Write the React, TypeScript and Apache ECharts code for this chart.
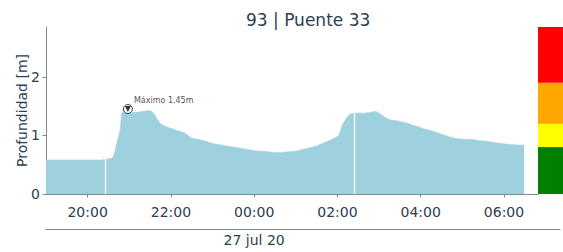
import React, { useEffect, useRef } from "react";
import * as echarts from "echarts";

const TITLE = "93 | Puente 33";
const Y_NAME = "Profundidad [m]";
const DATE_LABELS = ["27 jul 20"];
const DATE_AT = ["00:00"];

const TIMES = [
  "19:00","19:10","19:20","19:30","19:40","19:50","20:00","20:10","20:20","20:30",
  "20:35","20:38","20:41","20:44","20:47","20:49","20:52","20:57","21:05","21:15",
  "21:25","21:30","21:35","21:40","21:46","21:52","22:00","22:10","22:20","22:30",
  "22:40","22:50","23:00","23:10","23:20","23:30","23:40","23:50","00:00","00:10",
  "00:20","00:30","00:40","00:50","01:00","01:10","01:20","01:30","01:40","01:50",
  "01:58","02:02","02:06","02:10","02:14","02:18","02:24","02:30","02:40","02:50",
  "02:55","03:00","03:05","03:12","03:18","03:25","03:33","03:40","03:47","03:55",
  "04:05","04:15","04:25","04:35","04:45","04:55","05:05","05:15","05:25","05:35",
  "05:45","05:55","06:05","06:15","06:29"
];
const DEPTHS = [
  0.58,0.58,0.58,0.58,0.58,0.58,0.58,0.58,0.58,0.60,
  0.61,0.66,0.82,0.95,1.10,1.38,1.41,1.40,1.39,1.40,
  1.42,1.42,1.38,1.28,1.19,1.15,1.12,1.08,1.04,0.95,
  0.93,0.90,0.86,0.84,0.82,0.80,0.78,0.76,0.74,0.73,
  0.72,0.71,0.71,0.72,0.73,0.76,0.79,0.82,0.87,0.92,
  0.97,1.00,1.15,1.24,1.31,1.36,1.38,1.38,1.38,1.40,
  1.41,1.38,1.34,1.28,1.26,1.25,1.23,1.21,1.18,1.15,
  1.11,1.08,1.04,1.00,0.96,0.94,0.93,0.93,0.91,0.90,
  0.88,0.86,0.85,0.84,0.83
];
const GAP_TIMES = ["20:25", "02:24"];
const TICK_TIMES = ["20:00", "22:00", "00:00", "02:00", "04:00", "06:00"];
const Y_TICKS = [0, 1, 2];
const X_START = "19:00";
const X_END = "06:49";
const MAX_TIME = "20:58";
const MAX_VALUE = 1.45;
const MAX_LABEL = "Máximo 1.45m";
const Y_MAX = 2.85;
const LEVEL_TOPS = [0.8, 1.2, 1.9, 2.85];
const LEVEL_COLORS = ["#008000", "#ffff00", "#ffa500", "#ff0000"];

const FONT = "DejaVu Sans";
const AXIS_COLOR = "#7f8a90";
const TEXT_COLOR = "#2c3e50";
const FILL = "#9fd0de";

const toMin = (s: string) => {
  const [h, m] = s.split(":").map(Number);
  let v = h * 60 + m;
  if (h < 12) v += 1440;
  return v;
};
const fmt = (v: number) => {
  const t = ((Math.round(v) % 1440) + 1440) % 1440;
  const h = Math.floor(t / 60);
  const m = t % 60;
  return String(h).padStart(2, "0") + ":" + String(m).padStart(2, "0");
};

export default function App() {
  const ref = useRef<HTMLDivElement>(null);
  useEffect(() => {
    if (!ref.current) return;
    const chart = echarts.init(ref.current, null, { renderer: "svg" });
    const xMin = toMin(X_START);
    const xMax = toMin(X_END);
    const pxPerMin = (538 - 46) / (xMax - xMin);
    const dateMax = xMin + (560 - 46) / pxPerMin;
    const levelDiffs = LEVEL_TOPS.map((t, i) => t - (i === 0 ? 0 : LEVEL_TOPS[i - 1]));

    chart.setOption({
      animation: false,
      title: {
        text: TITLE,
        left: 241,
        top: 6,
        textStyle: { fontFamily: FONT, fontSize: 17, fontWeight: "normal", color: TEXT_COLOR },
      },
      grid: [
        { left: 46, top: 27, width: 492, height: 167, containLabel: false, outerBoundsMode: "none" },
        { left: 538, top: 27, width: 27, height: 167, containLabel: false, outerBoundsMode: "none" },
        { left: 46, top: 228, width: 514, height: 1, containLabel: false, outerBoundsMode: "none" },
      ],
      xAxis: [
        {
          gridIndex: 0,
          type: "value",
          min: xMin,
          max: xMax,
          z: 10,
          axisLine: { show: true, lineStyle: { color: AXIS_COLOR, width: 1 } },
          axisTick: {
            show: true,
            length: 3.5,
            lineStyle: { color: AXIS_COLOR },
            customValues: TICK_TIMES.map(toMin),
          },
          axisLabel: {
            customValues: TICK_TIMES.map(toMin),
            formatter: (v: number) => fmt(v),
            fontFamily: FONT,
            fontSize: 14,
            color: TEXT_COLOR,
            margin: 11,
          },
          splitLine: { show: false },
        },
        {
          gridIndex: 1,
          type: "category",
          data: ["nivel"],
          show: false,
        },
        {
          gridIndex: 2,
          type: "value",
          min: xMin,
          max: dateMax,
          axisLine: { show: true, onZero: false, lineStyle: { color: AXIS_COLOR, width: 1 } },
          axisTick: { show: false },
          axisLabel: {
            customValues: DATE_AT.map(toMin),
            formatter: (v: number) => DATE_LABELS[DATE_AT.map(toMin).indexOf(v)] ?? "",
            fontFamily: FONT,
            fontSize: 14,
            color: TEXT_COLOR,
            margin: 4,
          },
          splitLine: { show: false },
        },
      ],
      yAxis: [
        {
          gridIndex: 0,
          type: "value",
          min: 0,
          max: Y_MAX,
          name: Y_NAME,
          nameLocation: "middle",
          nameGap: 17,
          nameMoveOverlap: false,
          nameTextStyle: { fontFamily: FONT, fontSize: 14, color: TEXT_COLOR },
          axisLine: { show: true, lineStyle: { color: AXIS_COLOR, width: 1 } },
          axisTick: { show: true, length: 3.5, lineStyle: { color: AXIS_COLOR }, customValues: Y_TICKS },
          axisLabel: {
            customValues: Y_TICKS,
            fontFamily: FONT,
            fontSize: 14,
            color: TEXT_COLOR,
            margin: 6,
          },
          splitLine: { show: false },
        },
        { gridIndex: 1, type: "value", min: 0, max: Y_MAX, show: false },
        { gridIndex: 2, type: "value", min: 0, max: 1, show: false },
      ],
      series: [
        {
          type: "line",
          xAxisIndex: 0,
          yAxisIndex: 0,
          data: TIMES.map((t, i) => [toMin(t), DEPTHS[i]]),
          showSymbol: false,
          lineStyle: { width: 0.6, color: FILL },
          itemStyle: { color: FILL },
          areaStyle: { color: FILL, opacity: 1 },
          markLine: {
            silent: true,
            symbol: "none",
            label: { show: false },
            lineStyle: { color: "#ffffff", width: 1.3, type: "solid" },
            data: GAP_TIMES.map((t) => ({ xAxis: toMin(t) })),
          },
          z: 2,
        },
        {
          type: "scatter",
          xAxisIndex: 0,
          yAxisIndex: 0,
          data: [[toMin(MAX_TIME), MAX_VALUE]],
          symbol: "circle",
          symbolSize: 9,
          itemStyle: { color: "#ffffff", borderColor: "#111111", borderWidth: 1 },
          label: {
            show: true,
            position: "right",
            distance: 1,
            offset: [0, -9],
            formatter: MAX_LABEL,
            fontFamily: FONT,
            fontSize: 8,
            color: "#222222",
          },
          z: 5,
        },
        {
          type: "scatter",
          xAxisIndex: 0,
          yAxisIndex: 0,
          data: [[toMin(MAX_TIME), MAX_VALUE]],
          symbol: "triangle",
          symbolRotate: 180,
          symbolSize: 6,
          itemStyle: { color: "#000000" },
          z: 6,
        },
        ...levelDiffs.map((d, i) => ({
          type: "bar",
          xAxisIndex: 1,
          yAxisIndex: 1,
          stack: "nivel",
          data: [d],
          barWidth: "100%",
          itemStyle: { color: LEVEL_COLORS[i] },
        })),
        {
          type: "line",
          xAxisIndex: 2,
          yAxisIndex: 2,
          data: [],
        },
      ],
    });
    return () => chart.dispose();
  }, []);
  return (
    <div
      ref={ref}
      style={{ position: "fixed", left: 0, top: 0, width: 563, height: 252, background: "#ffffff" }}
    />
  );
}
